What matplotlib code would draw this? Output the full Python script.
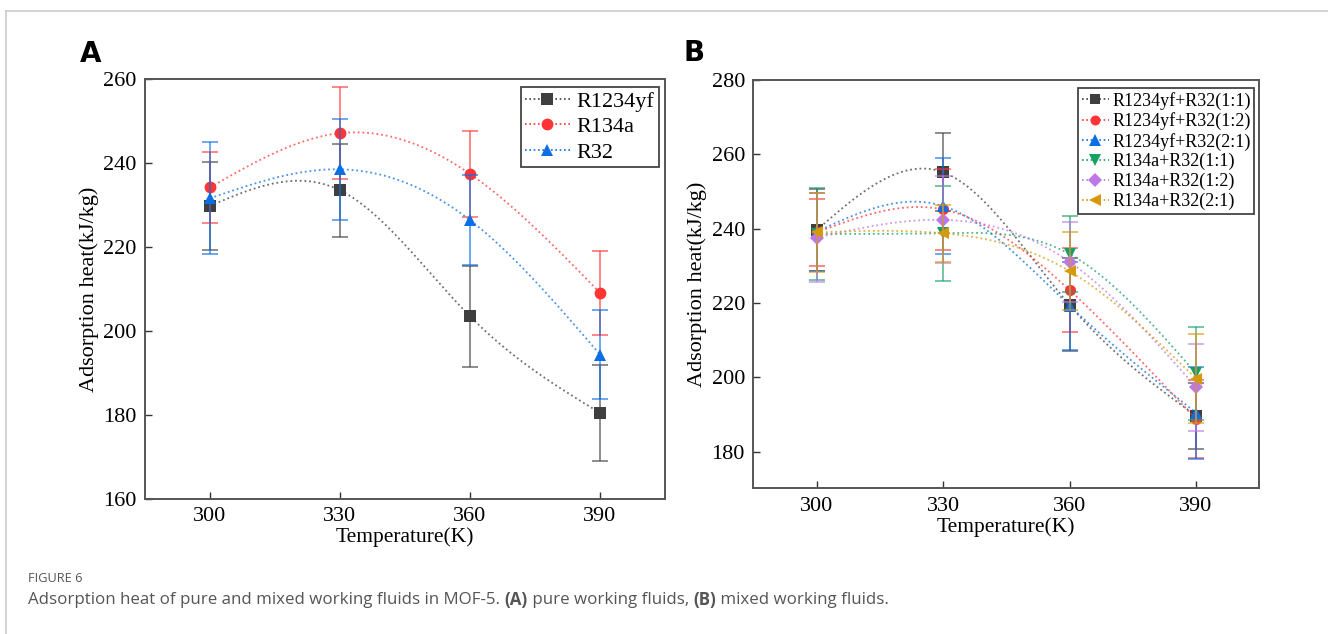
import numpy as np
import matplotlib
matplotlib.use('Agg')
import matplotlib.pyplot as plt
from matplotlib.lines import Line2D

plt.rcParams['font.family'] = ['Liberation Serif', 'DejaVu Serif']

TEMPS = [300, 330, 360, 390]

# panel A: pure working fluids
PURE_NAMES = ['R1234yf', 'R134a', 'R32']
R1234YF = [229.8, 233.5, 203.5, 180.5]
R1234YF_ERR = [10.5, 11.0, 12.0, 11.5]
R134A = [234.2, 247.1, 237.4, 209.1]
R134A_ERR = [8.5, 11.0, 10.2, 10.0]
R32 = [231.6, 238.5, 226.4, 194.4]
R32_ERR = [13.3, 12.0, 10.7, 10.7]

# panel B: mixed working fluids
MIX_NAMES = ['R1234yf+R32(1:1)', 'R1234yf+R32(1:2)', 'R1234yf+R32(2:1)',
             'R134a+R32(1:1)', 'R134a+R32(1:2)', 'R134a+R32(2:1)']
MIX_1 = [239.6, 255.2, 219.5, 189.7]
MIX_1_ERR = [11.0, 10.5, 12.5, 8.8]
MIX_2 = [239.0, 245.2, 223.5, 188.8]
MIX_2_ERR = [9.0, 11.0, 11.2, 10.5]
MIX_3 = [239.2, 246.1, 219.3, 190.5]
MIX_3_ERR = [10.5, 12.8, 11.8, 12.4]
MIX_4 = [238.6, 238.8, 233.2, 201.1]
MIX_4_ERR = [12.3, 12.8, 10.2, 12.5]
MIX_5 = [237.6, 242.4, 231.1, 197.4]
MIX_5_ERR = [12.0, 11.7, 10.8, 11.7]
MIX_6 = [239.0, 238.8, 228.6, 199.7]
MIX_6_ERR = [10.5, 7.7, 10.4, 12.0]

BLACK = '#3f3f3f'
RED = '#ff3535'
BLUE = '#0b6ee3'
GREEN = '#17a064'
PURPLE = '#bb78e6'
ORANGE = '#d6990c'

W, H = 1328, 634


def smooth(x, y, n=200):
    # natural cubic spline through the points (Origin "spline" connector)
    x = np.asarray(x, float)
    y = np.asarray(y, float)
    k = len(x)
    h = np.diff(x)
    A = np.zeros((k, k))
    b = np.zeros(k)
    A[0, 0] = A[-1, -1] = 1.0
    for i in range(1, k - 1):
        A[i, i - 1] = h[i - 1]
        A[i, i] = 2 * (h[i - 1] + h[i])
        A[i, i + 1] = h[i]
        b[i] = 6 * ((y[i + 1] - y[i]) / h[i] - (y[i] - y[i - 1]) / h[i - 1])
    M = np.linalg.solve(A, b)
    xs = np.linspace(x[0], x[-1], n)
    j = np.clip(np.searchsorted(x, xs) - 1, 0, k - 2)
    t0 = x[j + 1] - xs
    t1 = xs - x[j]
    hj = h[j]
    ys = (M[j] * t0 ** 3 + M[j + 1] * t1 ** 3) / (6 * hj) \
        + (y[j] / hj - M[j] * hj / 6) * t0 + (y[j + 1] / hj - M[j + 1] * hj / 6) * t1
    return xs, ys


def draw_series(ax, y, err, color, marker, ms, z):
    ax.errorbar(TEMPS, y, yerr=err, fmt='none', ecolor=color, alpha=0.6,
                elinewidth=1.4, capsize=6, capthick=1.4, zorder=z)
    xs, ys = smooth(TEMPS, y)
    ax.plot(xs, ys, linestyle=(0, (1, 1.6)), color=color, lw=1.3, alpha=0.75, zorder=z + 0.1)
    ax.plot(TEMPS, y, linestyle='none', marker=marker, ms=ms, color=color,
            markeredgewidth=0, zorder=z + 0.2)


def style_axes(ax):
    for s in ax.spines.values():
        s.set_color('#555555')
        s.set_linewidth(1.4)
    ax.tick_params(direction='in', length=5, width=1.0, color='#333333',
                   labelsize=16, top=False, right=False, pad=6)
    ax.set_xticks(TEMPS)
    ax.set_xlabel('Temperature(K)', fontsize=15.5, labelpad=1)
    ax.set_ylabel('Adsorption heat(kJ/kg)', fontsize=16, labelpad=3)


def legend_handles(series, names, scale=1.0):
    return [Line2D([0], [0], linestyle=(0, (1, 1.6)), color=c, marker=m, ms=ms * scale,
                   lw=1.2, markeredgewidth=0, label=n)
            for (y, e, c, m, ms), n in zip(series, names)]


fig = plt.figure(figsize=(W / 100, H / 100), dpi=100)

# panel A
ax1 = fig.add_axes([145 / W, 1 - 499 / H, 520 / W, 420 / H])
pure = [(R1234YF, R1234YF_ERR, BLACK, 's', 8),
        (R134A, R134A_ERR, RED, 'o', 8.5),
        (R32, R32_ERR, BLUE, '^', 9)]
for i, (y, e, c, m, ms) in enumerate(pure):
    draw_series(ax1, y, e, c, m, ms, 2 + i)
ax1.set_xlim(285, 405)
ax1.set_ylim(160, 260)
ax1.set_yticks(np.arange(160, 261, 20))
style_axes(ax1)
leg = ax1.legend(handles=legend_handles(pure, PURE_NAMES), loc='upper left',
                 bbox_to_anchor=(0.7225, 0.9817), borderaxespad=0,
                 fontsize=16, handlelength=2.0, labelspacing=0.22, borderpad=0.2,
                 handletextpad=0.3, fancybox=False, framealpha=1, edgecolor='#444444')
leg.get_frame().set_linewidth(1.3)

# panel B
ax2 = fig.add_axes([753.3 / W, 1 - 488.3 / H, 506 / W, 408.3 / H])
mixes = [(MIX_1, MIX_1_ERR, BLACK, 's', 8),
         (MIX_2, MIX_2_ERR, RED, 'o', 8),
         (MIX_3, MIX_3_ERR, BLUE, '^', 9),
         (MIX_4, MIX_4_ERR, GREEN, 'v', 9),
         (MIX_5, MIX_5_ERR, PURPLE, 'D', 7.5),
         (MIX_6, MIX_6_ERR, ORANGE, '<', 9)]
for i, (y, e, c, m, ms) in enumerate(mixes):
    draw_series(ax2, y, e, c, m, ms, 2 + i)
ax2.set_xlim(285, 405)
ax2.set_ylim(170.2, 280)
ax2.set_yticks(np.arange(180, 281, 20))
style_axes(ax2)
leg = ax2.legend(handles=legend_handles(mixes, MIX_NAMES, 0.9), loc='upper left',
                 bbox_to_anchor=(0.6417, 0.980), borderaxespad=0,
                 fontsize=13, handlelength=1.5, labelspacing=0.14, borderpad=0.2,
                 handletextpad=0.2, fancybox=False, framealpha=1, edgecolor='#444444')
leg.get_frame().set_linewidth(1.3)

# panel letters
fig.text(80 / W, 1 - 54 / H, 'A', family='DejaVu Sans', weight='bold', fontsize=20, va='center')
fig.text(684 / W, 1 - 53 / H, 'B', family='DejaVu Sans', weight='bold', fontsize=20, va='center')

# page frame lines
fig.add_artist(Line2D([6 / W, 6 / W], [0, 1 - 11 / H], color='#cccccc', lw=1.2,
                      transform=fig.transFigure))
fig.add_artist(Line2D([6 / W, 1], [1 - 11 / H, 1 - 11 / H], color='#cccccc', lw=1.2,
                      transform=fig.transFigure))

# caption
cap_font = ['Open Sans', 'DejaVu Sans']
fig.text(28 / W, 1 - 578 / H, 'FIGURE 6', family=cap_font, fontsize=9.2,
         color='#555555', va='center')
pieces = [('Adsorption heat of pure and mixed working fluids in MOF-5. ', 'normal'),
          ('(A)', 'bold'), (' pure working fluids, ', 'normal'),
          ('(B)', 'bold'), (' mixed working fluids.', 'normal')]
fig.canvas.draw()
r = fig.canvas.get_renderer()
x = 28
for txt, w in pieces:
    t = fig.text(x / W, 1 - 600 / H, txt, family=cap_font, fontsize=12.2,
                 weight=w, color='#555555', va='center')
    x += t.get_window_extent(renderer=r).width

fig.savefig('out.png', dpi=100)
